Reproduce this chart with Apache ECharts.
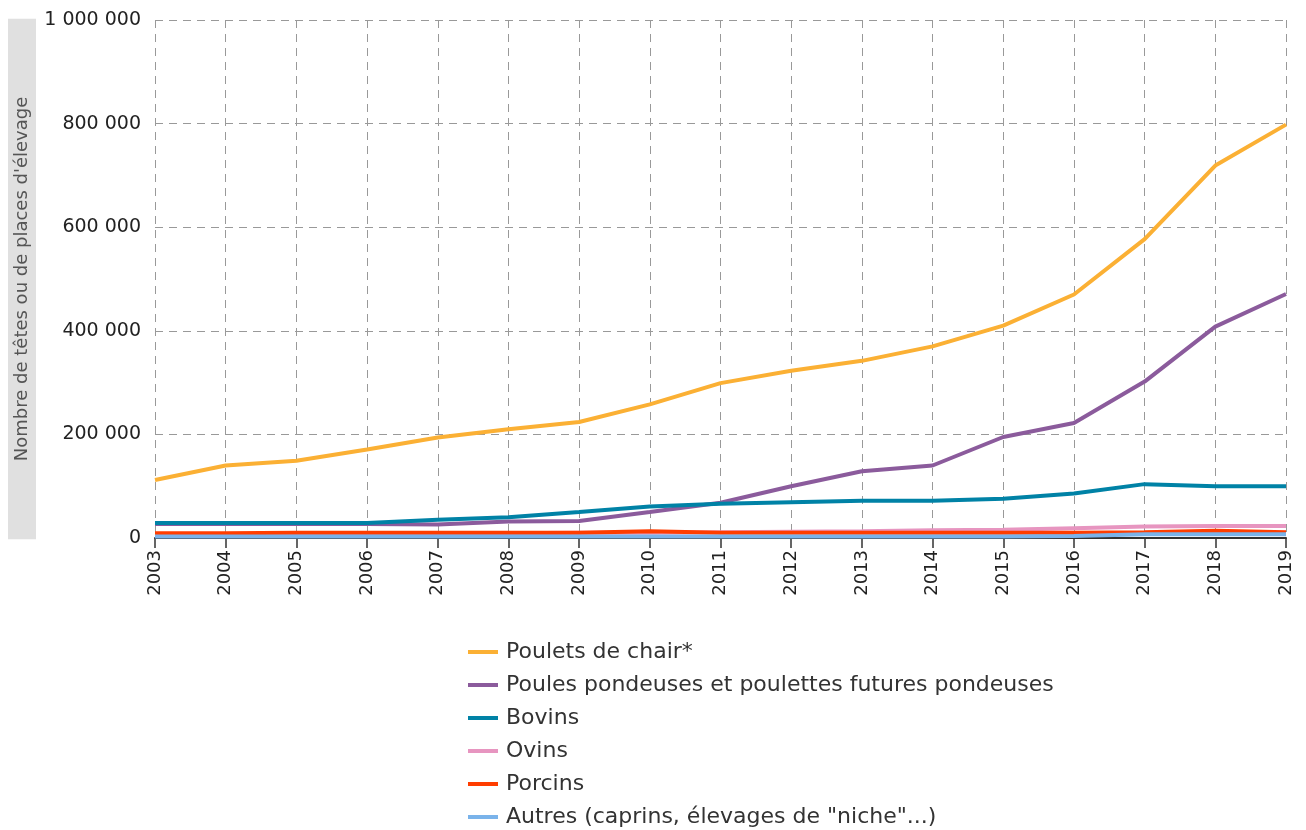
<!DOCTYPE html>
<html>
<head>
<meta charset="utf-8">
<script src="https://cdn.jsdelivr.net/npm/echarts@6/dist/echarts.min.js"></script>
<style>
html,body{margin:0;padding:0;background:#fff;}
#chart{width:1306px;height:830px;}
</style>
</head>
<body>
<div id="chart"></div>
<script>
const years = ['2003','2004','2005','2006','2007','2008','2009','2010','2011','2012','2013','2014','2015','2016','2017','2018','2019'];
const poulets = [112000,140000,149000,171000,194000,210000,224000,258000,299000,323000,342000,370000,410000,470000,577000,719000,798000];
const poules = [27000,27000,27000,27000,26000,32000,33000,50000,68000,100000,129000,140000,195000,222000,302000,408000,471000];
const bovins = [29000,29000,29000,29000,35000,40000,50000,61000,66000,69000,72000,72000,76000,86000,104000,100000,100000];
const ovins = [6000,7000,8000,8000,9000,9000,10000,10000,11000,12000,13000,15000,16000,19000,22000,23000,23000];
const porcins = [9000,9000,10000,10000,10000,10000,10000,13000,10000,10000,10000,10000,10000,10000,11000,14000,11000];
const autres = [3000,3000,3000,3000,3000,3000,3000,3000,3000,3000,3000,3000,3000,4000,7000,7000,7000];
const seriesNames = ['Poulets de chair*','Poules pondeuses et poulettes futures pondeuses','Bovins','Ovins','Porcins','Autres (caprins, élevages de "niche"...)'];
const seriesData = [poulets, poules, bovins, ovins, porcins, autres];
const colors = ['#fbb034','#8b5b9c','#0082a6','#e795c0','#ff3d00','#7ab3ea'];
const yAxisName = "Nombre de têtes ou de places d'élevage";

function fmt(v){ return String(v).replace(/\B(?=(\d{3})+(?!\d))/g, ' '); }

const chart = echarts.init(document.getElementById('chart'));
chart.setOption({
  animation: false,
  color: colors,
  textStyle: { fontFamily: 'DejaVu Sans' },
  grid: { left: 155, right: 20, top: 20, bottom: 292, containLabel: false, outerBoundsMode: 'none' },
  legend: {
    orient: 'vertical',
    left: 468,
    top: 641,
    height: 190,
    padding: 0,
    icon: 'rect',
    itemWidth: 30,
    itemHeight: 4,
    itemGap: 11,
    textStyle: { fontSize: 22, color: '#333', fontFamily: 'DejaVu Sans', padding: [0,0,0,3] },
    data: seriesNames
  },
  xAxis: {
    type: 'category',
    data: years,
    boundaryGap: false,
    axisLine: { lineStyle: { color: '#333', width: 2 } },
    axisTick: { show: true, length: 10, lineStyle: { color: '#333', width: 1.5 } },
    axisLabel: { rotate: 90, fontSize: 18, color: '#222', margin: 12, fontFamily: 'DejaVu Sans' },
    splitLine: { show: true, lineStyle: { type: [8, 6], color: '#999', width: 1 } }
  },
  yAxis: {
    type: 'value',
    min: 0,
    max: 1000000,
    interval: 200000,
    name: yAxisName,
    nameLocation: 'middle',
    nameMoveOverlap: false,
    nameGap: 119,
    nameTextStyle: { fontSize: 18, color: '#555', backgroundColor: '#e0e0e0', padding: [5, 78, 5, 78], fontFamily: 'DejaVu Sans' },
    axisLine: { show: false },
    axisTick: { show: false },
    axisLabel: { fontSize: 19, color: '#222', margin: 14, formatter: fmt, fontFamily: 'DejaVu Sans' },
    splitLine: { show: true, lineStyle: { type: [8, 6], color: '#999', width: 1 } }
  },
  series: seriesData.map((d, i) => ({
    name: seriesNames[i],
    type: 'line',
    data: d,
    symbol: 'none',
    smooth: false,
    lineStyle: { width: 4, color: colors[i] },
    itemStyle: { color: colors[i] }
  }))
});
</script>
</body>
</html>
